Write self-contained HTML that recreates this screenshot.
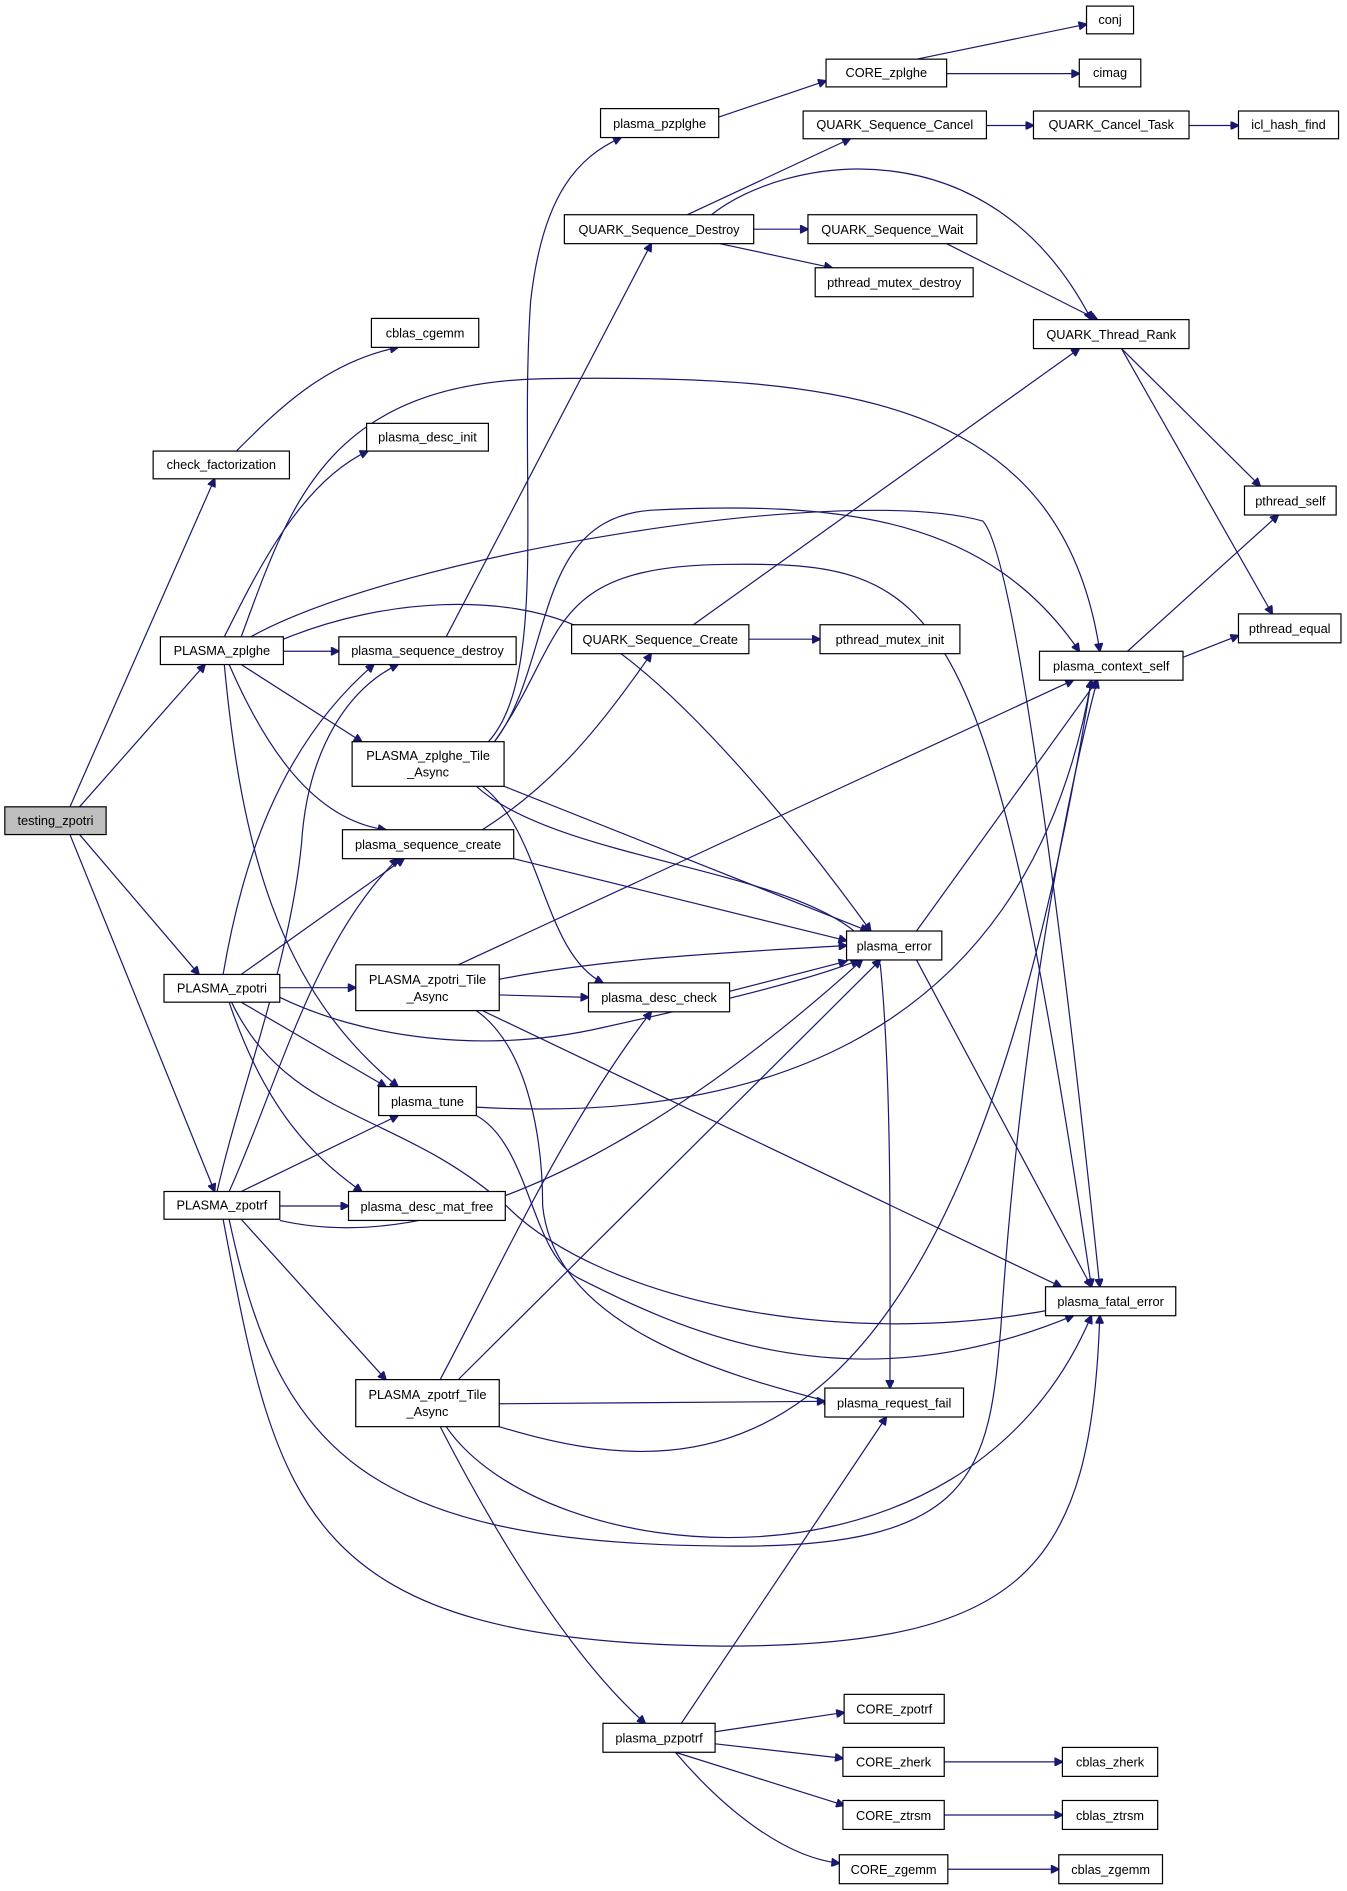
<!DOCTYPE html>
<html><head><meta charset="utf-8"><style>
html,body{margin:0;padding:0;background:#fff;}
svg{display:block;}
text{font-family:"Liberation Sans",sans-serif;font-size:10.6px;fill:#000;text-anchor:middle;}
.e{fill:none;stroke:#191970;stroke-width:1;}
rect{fill:#fff;stroke:#000;stroke-width:1;}
</style></head><body>
<svg width="1347" height="1891" viewBox="0 0 1117 1568" xmlns="http://www.w3.org/2000/svg">
<defs><marker id="a" viewBox="0 0 10 10" refX="9" refY="5" markerWidth="10" markerHeight="7" markerUnits="userSpaceOnUse" orient="auto"><path d="M0,0 L10,5 L0,10 z" fill="#191970" stroke="#191970"/></marker></defs>
<g class="e" marker-end="url(#a)">
<path d="M58,669 L178,397"/>
<path d="M66,669 L170,551"/>
<path d="M66,692 L165,808"/>
<path d="M58,692 L178,988"/>
<path d="M196,374 C230,340 270,300 330,288"/>
<path d="M186,528 C215,470 250,400 305,374"/>
<path d="M200,528 C240,420 270,318 450,314 C700,310 880,330 912,540"/>
<path d="M235,540 L281,540"/>
<path d="M200,551 L300,615"/>
<path d="M190,551 C220,620 260,680 320,688"/>
<path d="M186,551 C200,700 230,820 330,901"/>
<path d="M235,530 C320,495 420,492 480,520 C560,560 670,700 722,772"/>
<path d="M208,528 C330,460 700,400 815,432 C850,470 905,1000 912,1067"/>
<path d="M405,615 C455,560 430,400 440,250 C450,160 480,130 515,114"/>
<path d="M410,615 C460,550 440,430 540,423 C700,415 820,430 895,540"/>
<path d="M410,615 C470,530 450,470 600,468 C780,465 820,490 905,1067"/>
<path d="M418,652 L720,772"/>
<path d="M400,652 C450,690 450,790 500,815"/>
<path d="M395,652 C470,720 700,720 730,800 C740,900 738,1050 738,1151"/>
<path d="M370,528 L540,202"/>
<path d="M400,688 C460,650 500,600 540,542"/>
<path d="M426,712 L702,780"/>
<path d="M575,518 L895,289"/>
<path d="M621,530 L680,530"/>
<path d="M570,178 L705,115"/>
<path d="M625,190 L670,190"/>
<path d="M597,202 L690,222"/>
<path d="M590,178 C650,130 820,100 905,265"/>
<path d="M785,202 L910,265"/>
<path d="M818,104 L857,104"/>
<path d="M986,104 L1027,104"/>
<path d="M596,97 L685,67"/>
<path d="M760,49 L901,20"/>
<path d="M785,61 L895,61"/>
<path d="M930,289 L1045,403"/>
<path d="M930,289 L1055,509"/>
<path d="M935,540 L1060,427"/>
<path d="M981,545 L1027,527"/>
<path d="M760,772 L910,564"/>
<path d="M760,796 L905,1067"/>
<path d="M605,822 L702,797"/>
<path d="M185,808 C200,720 230,620 310,551"/>
<path d="M200,808 L335,712"/>
<path d="M232,819 L295,819"/>
<path d="M200,831 L320,901"/>
<path d="M190,831 C220,920 260,960 300,988"/>
<path d="M232,827 C300,860 400,875 500,852 C600,830 680,810 712,796"/>
<path d="M192,831 C240,930 330,920 420,1000 C500,1080 700,1120 877,1085"/>
<path d="M380,800 L890,564"/>
<path d="M414,812 C500,795 600,790 702,784"/>
<path d="M414,825 L488,827"/>
<path d="M400,838 L880,1067"/>
<path d="M395,838 C440,870 450,950 450,1000 C460,1100 600,1140 690,1163"/>
<path d="M395,918 C600,930 850,880 905,564"/>
<path d="M395,925 C440,950 440,1040 480,1060 C560,1100 700,1170 890,1091"/>
<path d="M200,988 L330,925"/>
<path d="M232,1000 L289,1000"/>
<path d="M200,1011 L320,1144"/>
<path d="M232,1012 C400,1050 600,900 715,796"/>
<path d="M190,1011 C230,1200 300,1280 600,1282 C810,1285 820,1220 830,1100 C850,800 900,600 910,564"/>
<path d="M185,1011 C230,1250 250,1362 600,1365 C850,1365 905,1300 912,1091"/>
<path d="M180,988 C200,900 240,800 250,700 C255,620 290,570 330,551"/>
<path d="M190,988 C230,900 260,780 330,712"/>
<path d="M365,1144 C420,1040 470,930 540,839"/>
<path d="M380,1144 L730,796"/>
<path d="M414,1164 L684,1162"/>
<path d="M414,1183 C600,1240 800,1220 905,564"/>
<path d="M370,1183 C450,1300 800,1340 905,1091"/>
<path d="M365,1183 C420,1290 480,1380 535,1429"/>
<path d="M565,1429 L735,1175"/>
<path d="M593,1436 L700,1420"/>
<path d="M593,1446 L699,1458"/>
<path d="M560,1453 L700,1497"/>
<path d="M560,1453 C600,1500 650,1540 696,1545"/>
<path d="M783,1461 L881,1461"/>
<path d="M783,1505 L881,1505"/>
<path d="M786,1550 L878,1550"/>
</g>
<g>
<rect x="4" y="669" width="84" height="23" style="fill:#bfbfbf"/><text x="46" y="684">testing_zpotri</text>
<rect x="127" y="374" width="113" height="23"/><text x="183.5" y="389">check_factorization</text>
<rect x="308" y="264" width="89" height="24"/><text x="352.5" y="280">cblas_cgemm</text>
<rect x="304" y="351" width="101" height="23"/><text x="354.5" y="366">plasma_desc_init</text>
<rect x="133" y="528" width="102" height="23"/><text x="184" y="543">PLASMA_zplghe</text>
<rect x="136" y="808" width="96" height="23"/><text x="184" y="823">PLASMA_zpotri</text>
<rect x="136" y="988" width="96" height="23"/><text x="184" y="1003">PLASMA_zpotrf</text>
<rect x="498" y="90" width="98" height="24"/><text x="547" y="106">plasma_pzplghe</text>
<rect x="685" y="49" width="100" height="23"/><text x="735" y="64">CORE_zplghe</text>
<rect x="901" y="5" width="39" height="23"/><text x="920.5" y="20">conj</text>
<rect x="895" y="49" width="51" height="23"/><text x="920.5" y="64">cimag</text>
<rect x="666" y="92" width="152" height="23"/><text x="742" y="107">QUARK_Sequence_Cancel</text>
<rect x="857" y="92" width="129" height="23"/><text x="921.5" y="107">QUARK_Cancel_Task</text>
<rect x="1027" y="92" width="83" height="23"/><text x="1068.5" y="107">icl_hash_find</text>
<rect x="468" y="178" width="157" height="24"/><text x="546.5" y="194">QUARK_Sequence_Destroy</text>
<rect x="670" y="178" width="140" height="24"/><text x="740" y="194">QUARK_Sequence_Wait</text>
<rect x="676" y="222" width="131" height="24"/><text x="741.5" y="238">pthread_mutex_destroy</text>
<rect x="857" y="265" width="129" height="24"/><text x="921.5" y="281">QUARK_Thread_Rank</text>
<rect x="1032" y="403" width="76" height="24"/><text x="1070" y="419">pthread_self</text>
<rect x="1027" y="509" width="85" height="24"/><text x="1069.5" y="525">pthread_equal</text>
<rect x="862" y="540" width="119" height="24"/><text x="921.5" y="556">plasma_context_self</text>
<rect x="281" y="528" width="147" height="23"/><text x="354.5" y="543">plasma_sequence_destroy</text>
<rect x="474" y="518" width="147" height="24"/><text x="547.5" y="534">QUARK_Sequence_Create</text>
<rect x="680" y="518" width="116" height="24"/><text x="738" y="534">pthread_mutex_init</text>
<rect x="292" y="615" width="126" height="37"/><text x="355" y="630">PLASMA_zplghe_Tile</text><text x="355" y="644">_Async</text>
<rect x="284" y="688" width="142" height="24"/><text x="355" y="704">plasma_sequence_create</text>
<rect x="702" y="772" width="79" height="24"/><text x="741.5" y="788">plasma_error</text>
<rect x="295" y="800" width="119" height="38"/><text x="354.5" y="816">PLASMA_zpotri_Tile</text><text x="354.5" y="830">_Async</text>
<rect x="488" y="815" width="117" height="24"/><text x="546.5" y="831">plasma_desc_check</text>
<rect x="314" y="901" width="81" height="24"/><text x="354.5" y="917">plasma_tune</text>
<rect x="289" y="988" width="130" height="24"/><text x="354" y="1004">plasma_desc_mat_free</text>
<rect x="867" y="1067" width="108" height="24"/><text x="921" y="1083">plasma_fatal_error</text>
<rect x="295" y="1144" width="119" height="39"/><text x="354.5" y="1160">PLASMA_zpotrf_Tile</text><text x="354.5" y="1174">_Async</text>
<rect x="684" y="1151" width="115" height="24"/><text x="741.5" y="1167">plasma_request_fail</text>
<rect x="700" y="1405" width="83" height="24"/><text x="741.5" y="1421">CORE_zpotrf</text>
<rect x="500" y="1429" width="93" height="24"/><text x="546.5" y="1445">plasma_pzpotrf</text>
<rect x="699" y="1449" width="84" height="24"/><text x="741" y="1465">CORE_zherk</text>
<rect x="881" y="1449" width="79" height="24"/><text x="920.5" y="1465">cblas_zherk</text>
<rect x="699" y="1493" width="84" height="24"/><text x="741" y="1509">CORE_ztrsm</text>
<rect x="881" y="1493" width="79" height="24"/><text x="920.5" y="1509">cblas_ztrsm</text>
<rect x="696" y="1538" width="90" height="24"/><text x="741" y="1554">CORE_zgemm</text>
<rect x="878" y="1538" width="86" height="24"/><text x="921" y="1554">cblas_zgemm</text>
</g>
</svg>
</body></html>
